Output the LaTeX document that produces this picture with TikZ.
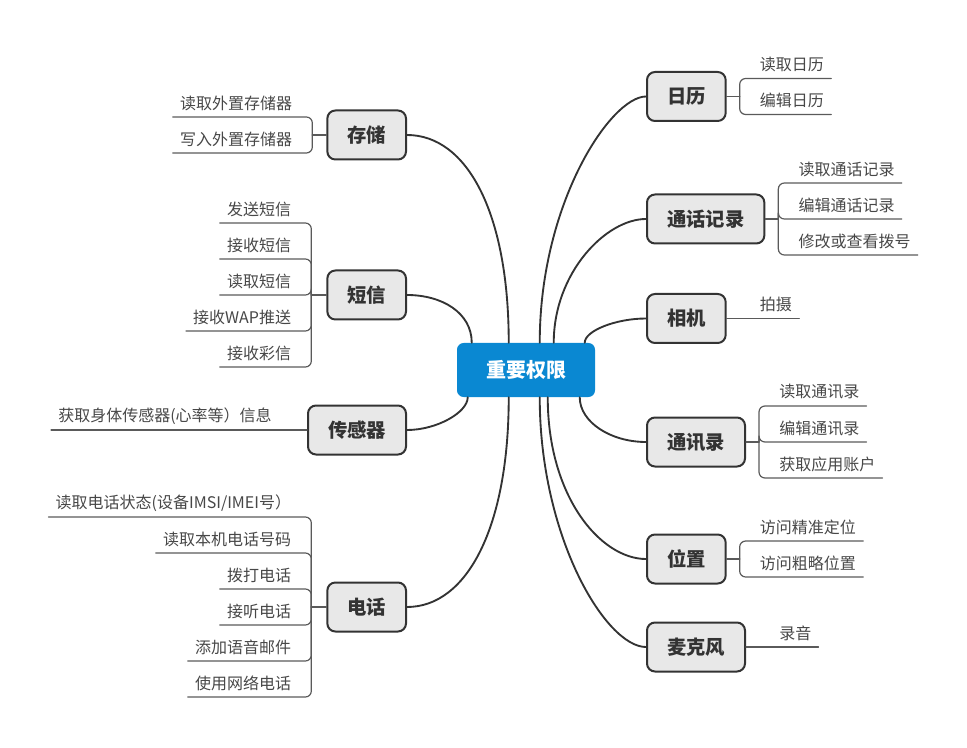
\documentclass[tikz,border=0pt]{standalone}
\usepackage{fontspec}
\setmainfont{Noto Sans CJK SC}
\usetikzlibrary{calc}
\definecolor{hubblue}{HTML}{0A88D2}
\definecolor{boxgray}{HTML}{E8E8E8}
\definecolor{inkdark}{HTML}{333333}
\definecolor{leafgray}{HTML}{5A5A5A}
\tikzset{
    hub/.style={
        rectangle, rounded corners=5pt, fill=hubblue, text=white,
        font=\fontsize{15}{18}\selectfont\bfseries,
        minimum width=103.5pt, minimum height=40.5pt
    },
    topic/.style={
        rectangle, rounded corners=6pt, draw=inkdark, line width=1.5pt,
        fill=boxgray, text=inkdark,
        font=\fontsize{14.5}{17}\selectfont\bfseries,
        inner xsep=15pt, minimum height=36.75pt
    },
    branch/.style={draw=inkdark, line width=1.4pt},
    stem/.style={draw=leafgray, line width=0.9pt},
    leafline/.style={stem, rounded corners=4.5pt},
    leafr/.style={
        anchor=west, inner sep=0pt, text=inkdark!90,
        font=\fontsize{12}{14}\selectfont
    },
    leafl/.style={leafr, anchor=east}
}

\begin{document}
\begin{tikzpicture}[x=0.75pt, y=-0.75pt, line cap=round, line join=round]
\useasboundingbox (0,0) rectangle (967,748);

\node[hub] (qx) at (526,370) {重要权限};

% topics, right side
\node[topic, anchor=west] (rili)    at (646,96.5) {日历};
\node[topic, anchor=west] (tonghua) at (646,219)  {通话记录};
\node[topic, anchor=west] (xiangji) at (646,318.5) {相机};
\node[topic, anchor=west] (tongxun) at (646,442)  {通讯录};
\node[topic, anchor=west] (weizhi)  at (646,559)  {位置};
\node[topic, anchor=west] (maike)   at (646,647)  {麦克风};

% topics, left side
\node[topic, anchor=east] (cunchu)   at (407,135) {存储};
\node[topic, anchor=east] (duanxin)  at (407,295) {短信};
\node[topic, anchor=east] (chuangan) at (407,430) {传感器};
\node[topic, anchor=east] (dianhua)  at (407,607) {电话};

% curves from the hub
\draw[branch] ($(qx.north west)+(52,0)$)  .. controls +(0,-130) and +(60,0)  .. (cunchu.east);
\draw[branch] ($(qx.north west)+(15,0)$)  .. controls +(0,-30)  and +(35,0)  .. (duanxin.east);
\draw[branch] ($(qx.north west)+(83,0)$)  .. controls +(0,-140) and +(-35,0) .. (rili.west);
\draw[branch] ($(qx.north west)+(97,0)$)  .. controls +(0,-70)  and +(-40,0) .. (tonghua.west);
\draw[branch] ($(qx.north west)+(128,0)$) .. controls +(0,-12)  and +(-30,0) .. (xiangji.west);
\draw[branch] ($(qx.south west)+(11,0)$)  .. controls +(0,15)   and +(30,0)  .. (chuangan.east);
\draw[branch] ($(qx.south west)+(52,0)$)  .. controls +(0,130)  and +(60,0)  .. (dianhua.east);
\draw[branch] ($(qx.south west)+(83,0)$)  .. controls +(0,140)  and +(-40,0) .. (maike.west);
\draw[branch] ($(qx.south west)+(91,0)$)  .. controls +(0,100)  and +(-45,0) .. (weizhi.west);
\draw[branch] ($(qx.south west)+(123,0)$) .. controls +(0,25)   and +(-35,0) .. (tongxun.west);

% leaves of 日历
\draw[stem] (rili.east) -- ++(13,0) coordinate (rili-j);
\foreach \t [count=\i] in {读取日历,编辑日历} {
  \coordinate (rili-l\i) at ($(rili-j)+(0,{(\i-1.5)*36})$);
  \node[leafr] (rili-\i) at ($(rili-l\i)+(20,-14)$) {\t};
  \draw[leafline] (rili-j) |- (rili-l\i -| rili-\i.east) -- ++(7,0);
}

% leaves of 通话记录
\draw[stem] (tonghua.east) -- ++(13,0) coordinate (tonghua-j);
\foreach \t [count=\i] in {读取通话记录,编辑通话记录,修改或查看拨号} {
  \coordinate (tonghua-l\i) at ($(tonghua-j)+(0,{(\i-2)*36})$);
  \node[leafr] (tonghua-\i) at ($(tonghua-l\i)+(20,-14)$) {\t};
  \draw[leafline] (tonghua-j) |- (tonghua-l\i -| tonghua-\i.east) -- ++(7,0);
}

% leaves of 相机
\draw[stem] (xiangji.east) -- ++(13,0) coordinate (xiangji-j);
\node[leafr] (xiangji-1) at ($(xiangji-j)+(20,-14)$) {拍摄};
\draw[stem] (xiangji-j) -- (xiangji-j -| xiangji-1.east) -- ++(7,0);

% leaves of 通讯录
\draw[stem] (tongxun.east) -- ++(13,0) coordinate (tongxun-j);
\foreach \t [count=\i] in {读取通讯录,编辑通讯录,获取应用账户} {
  \coordinate (tongxun-l\i) at ($(tongxun-j)+(0,{(\i-2)*36})$);
  \node[leafr] (tongxun-\i) at ($(tongxun-l\i)+(20,-14)$) {\t};
  \draw[leafline] (tongxun-j) |- (tongxun-l\i -| tongxun-\i.east) -- ++(7,0);
}

% leaves of 位置
\draw[stem] (weizhi.east) -- ++(13,0) coordinate (weizhi-j);
\foreach \t [count=\i] in {访问精准定位,访问粗略位置} {
  \coordinate (weizhi-l\i) at ($(weizhi-j)+(0,{(\i-1.5)*36})$);
  \node[leafr] (weizhi-\i) at ($(weizhi-l\i)+(20,-14)$) {\t};
  \draw[leafline] (weizhi-j) |- (weizhi-l\i -| weizhi-\i.east) -- ++(7,0);
}

% leaves of 麦克风
\draw[stem] (maike.east) -- ++(13,0) coordinate (maike-j);
\node[leafr] (maike-1) at ($(maike-j)+(20,-14)$) {录音};
\draw[stem] (maike-j) -- (maike-j -| maike-1.east) -- ++(7,0);

% leaves of 存储
\draw[stem] (cunchu.west) -- ++(-14,0) coordinate (cunchu-j);
\foreach \t [count=\i] in {读取外置存储器,写入外置存储器} {
  \coordinate (cunchu-l\i) at ($(cunchu-j)+(0,{(\i-1.5)*36})$);
  \node[leafl] (cunchu-\i) at ($(cunchu-l\i)+(-20,-14)$) {\t};
  \draw[leafline] (cunchu-j) |- (cunchu-l\i -| cunchu-\i.west) -- ++(-7,0);
}

% leaves of 短信
\draw[stem] (duanxin.west) -- ++(-15,0) coordinate (duanxin-j);
\foreach \t [count=\i] in {发送短信,接收短信,读取短信,接收WAP推送,接收彩信} {
  \coordinate (duanxin-l\i) at ($(duanxin-j)+(0,{(\i-3)*36})$);
  \node[leafl] (duanxin-\i) at ($(duanxin-l\i)+(-20,-14)$) {\t};
  \draw[leafline] (duanxin-j) |- (duanxin-l\i -| duanxin-\i.west) -- ++(-7,0);
}

% leaves of 传感器
\draw[stem] (chuangan.west) -- ++(-13,0) coordinate (chuangan-j);
\node[leafl] (chuangan-1) at ($(chuangan-j)+(-22,-14)$) {获取身体传感器(心率等）信息};
\draw[stem] (chuangan-j) -- (chuangan-j -| chuangan-1.west) -- ++(-7,0);

% leaves of 电话
\draw[stem] (dianhua.west) -- ++(-15,0) coordinate (dianhua-j);
\foreach \t [count=\i] in {{读取电话状态(设备IMSI/IMEI号）},读取本机电话号码,拨打电话,接听电话,添加语音邮件,使用网络电话} {
  \coordinate (dianhua-l\i) at ($(dianhua-j)+(0,{(\i-3.5)*36})$);
  \node[leafl] (dianhua-\i) at ($(dianhua-l\i)+(-20,-14)$) {\t};
  \draw[leafline] (dianhua-j) |- (dianhua-l\i -| dianhua-\i.west) -- ++(-7,0);
}

\end{tikzpicture}
\end{document}
